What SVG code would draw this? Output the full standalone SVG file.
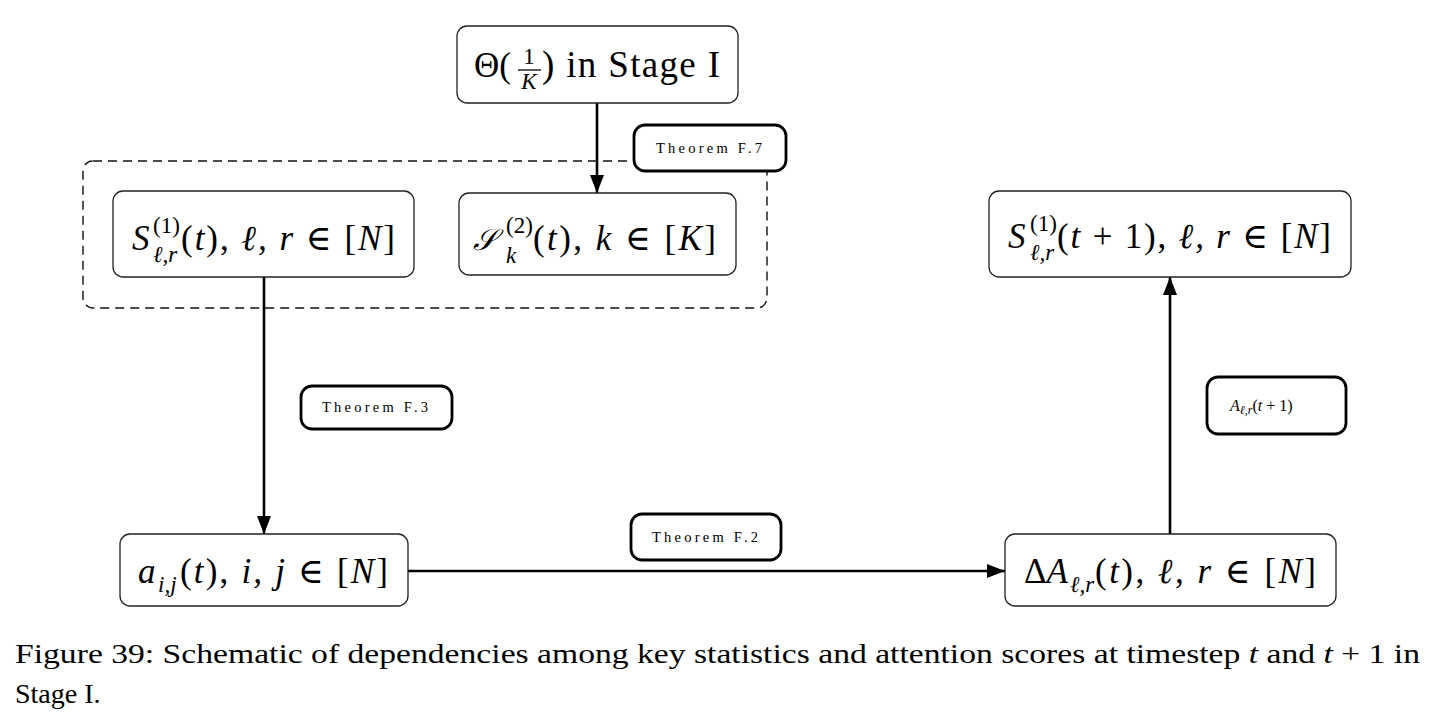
<svg xmlns="http://www.w3.org/2000/svg" width="1435" height="724" viewBox="0 0 1435 724">
<style>
.node{fill:#fff;stroke:#222;stroke-width:1.3}
.lab{fill:#fff;stroke:#000;stroke-width:2.8}
.dash{fill:none;stroke:#111;stroke-width:1.4;stroke-dasharray:9 6}
.edge{stroke:#000;stroke-width:2.6;fill:none}
text{font-family:"Liberation Serif","DejaVu Serif",serif;fill:#000}
.m{font-size:35px}
.s{font-size:23px}
.i{font-style:italic}
.t{font-size:14.5px}
.cap{font-size:28px}
</style>
<defs>
<marker id="arr" viewBox="0 0 18 14" refX="18" refY="7" markerWidth="18" markerHeight="14" markerUnits="userSpaceOnUse" orient="auto">
<path d="M0,0 L18,7 L0,14 z" fill="#000"/>
</marker>
</defs>

<rect class="dash" x="83" y="161" width="684" height="147" rx="10"/>

<g id="connectors">
<line class="edge" x1="597" y1="103" x2="597" y2="193" marker-end="url(#arr)"/>
<line class="edge" x1="264" y1="277" x2="264" y2="534" marker-end="url(#arr)"/>
<line class="edge" x1="408" y1="571" x2="1005" y2="571" marker-end="url(#arr)"/>
<line class="edge" x1="1170" y1="534" x2="1170" y2="277" marker-end="url(#arr)"/>
</g>

<g id="theta">
<rect class="node" x="457" y="26" width="281" height="77" rx="10"/>
<text class="m" x="474" y="77" font-family="Liberation Serif">Θ(</text>
<text class="s" x="529" y="64" text-anchor="middle" font-family="Liberation Serif">1</text>
<line x1="518" y1="70" x2="541" y2="70" stroke="#000" stroke-width="1.3"/>
<text class="s i" x="529" y="89" text-anchor="middle" font-family="Liberation Serif">K</text>
<text x="542" y="77" font-size="37" textLength="178" font-family="Liberation Serif">) in Stage I</text>
</g>

<g id="s1">
<rect class="node" x="113" y="191" width="301" height="86" rx="10"/>
<text class="m i" x="132" y="250" font-family="Liberation Serif">S</text>
<text class="s" x="153" y="233" font-family="Liberation Serif">(1)</text>
<text class="s i" x="153" y="262" font-family="Liberation Serif">ℓ,r</text>
<text class="m" x="181" y="250" textLength="214" font-family="Liberation Serif">(<tspan class="i">t</tspan>),  <tspan class="i">ℓ, r</tspan> ∈ [<tspan class="i">N</tspan>]</text>
</g>

<g id="s2">
<rect class="node" x="459" y="193" width="277" height="82" rx="10"/>
<text x="473" y="250" font-size="30" font-style="italic">𝒮</text>
<text class="s" x="506" y="233" font-family="Liberation Serif">(2)</text>
<text class="s i" x="506" y="263" font-family="Liberation Serif">k</text>
<text class="m" x="533" y="250" textLength="183" font-family="Liberation Serif">(<tspan class="i">t</tspan>),  <tspan class="i">k</tspan> ∈ [<tspan class="i">K</tspan>]</text>
</g>

<g id="s1next">
<rect class="node" x="989" y="191" width="362" height="86" rx="10"/>
<text class="m i" x="1008" y="248" font-family="Liberation Serif">S</text>
<text class="s" x="1030" y="231" font-family="Liberation Serif">(1)</text>
<text class="s i" x="1030" y="260" font-family="Liberation Serif">ℓ,r</text>
<text class="m" x="1057" y="248" textLength="274" font-family="Liberation Serif">(<tspan class="i">t</tspan> + 1),  <tspan class="i">ℓ, r</tspan> ∈ [<tspan class="i">N</tspan>]</text>
</g>

<g id="aij">
<rect class="node" x="120" y="534" width="288" height="72" rx="10"/>
<text class="m i" x="138" y="583" font-family="Liberation Serif">a</text>
<text class="s i" x="158" y="592" font-family="Liberation Serif">i,j</text>
<text class="m" x="180" y="583" textLength="208" font-family="Liberation Serif">(<tspan class="i">t</tspan>),  <tspan class="i">i, j</tspan> ∈ [<tspan class="i">N</tspan>]</text>
</g>

<g id="deltaA">
<rect class="node" x="1005" y="534" width="331" height="72" rx="10"/>
<text class="m" x="1024" y="583" font-family="Liberation Serif">Δ<tspan class="i">A</tspan></text>
<text class="s i" x="1070" y="592" font-family="Liberation Serif">ℓ,r</text>
<text class="m" x="1095" y="583" textLength="221" font-family="Liberation Serif">(<tspan class="i">t</tspan>),  <tspan class="i">ℓ, r</tspan> ∈ [<tspan class="i">N</tspan>]</text>
</g>

<g id="lab-f7">
<rect class="lab" x="634" y="125" width="152" height="46" rx="11"/>
<text class="t" x="656" y="153" textLength="106" font-family="Liberation Serif">Theorem F.7</text>
</g>
<g id="lab-f3">
<rect class="lab" x="301" y="386" width="151" height="43" rx="11"/>
<text class="t" x="322" y="412" textLength="106" font-family="Liberation Serif">Theorem F.3</text>
</g>
<g id="lab-f2">
<rect class="lab" x="631" y="514" width="150" height="46" rx="11"/>
<text class="t" x="652" y="542" textLength="106" font-family="Liberation Serif">Theorem F.2</text>
</g>
<g id="lab-a">
<rect class="lab" x="1207" y="377" width="139" height="57" rx="11"/>
<text x="1230" y="411" font-size="16" font-family="Liberation Serif"><tspan class="i">A</tspan><tspan class="i" font-size="12" dy="3">ℓ,r</tspan><tspan dy="-3">(</tspan><tspan class="i">t</tspan> + 1)</text>
</g>

<g id="caption">
<text class="cap" x="15" y="663" textLength="1405" lengthAdjust="spacingAndGlyphs" font-family="Liberation Serif">Figure 39: Schematic of dependencies among key statistics and attention scores at timestep <tspan class="i">t</tspan> and <tspan class="i">t</tspan> + 1 in</text>
<text class="cap" x="15" y="703" font-family="Liberation Serif">Stage I.</text>
</g>
</svg>
